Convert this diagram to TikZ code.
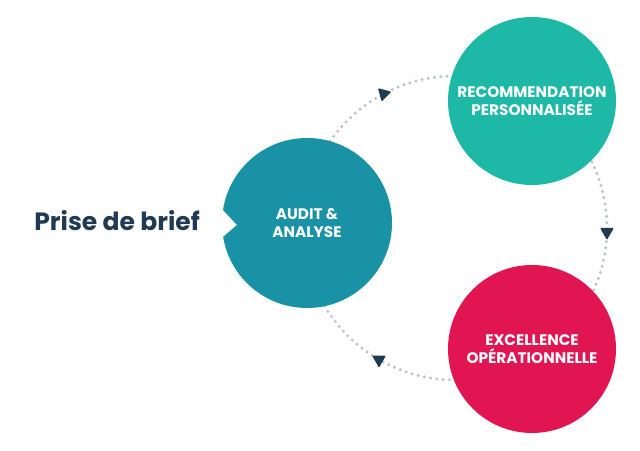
\documentclass[tikz,border=0pt]{standalone}
\usepackage{fontspec}
\setmainfont{Poppins}
\usetikzlibrary{shapes.geometric}

\definecolor{navy}{HTML}{1F3A52}
\definecolor{dotgray}{HTML}{BCC2CA}
\definecolor{auditcol}{HTML}{1892A4}
\definecolor{recocol}{HTML}{1EB8A7}
\definecolor{excelcol}{HTML}{E01552}

\tikzset{
    bubble/.style={circle, minimum size=168pt, inner sep=0pt, align=center,
        text=white, font=\bfseries\fontsize{15.3}{18}\selectfont},
    dotline/.style={dotgray, line width=3.3pt, line cap=round,
        dash pattern=on 0pt off 6.3pt},
    tri/.style={regular polygon, regular polygon sides=3, shape border rotate=180,
        fill=navy, minimum size=16pt, inner sep=0pt, rounded corners=1pt}
}

\begin{document}
\begin{tikzpicture}[x=1pt, y=1pt]
        \useasboundingbox (0,0) rectangle (640,450);
        \coordinate (hub) at (455,222);

        % dotted cycle
        \draw[dotline] ([shift={(150:152)}]hub) arc[start angle=150, end angle=90, radius=152];
        \draw[dotline] ([shift={(40:152)}]hub) arc[start angle=40, end angle=-30, radius=152];
        \draw[dotline] ([shift={(-85:152)}]hub) arc[start angle=-85, end angle=-155, radius=152];

        % steps
        \node[bubble, fill=auditcol, minimum size=170pt] (audit) at (307,227) {AUDIT \&\\ANALYSE};
        \node[bubble, fill=recocol] (reco) at (532,349) {RECOMMENDATION\\PERSONNALISÉE};
        \node[bubble, fill=excelcol] (excel) at (532,101) {EXCELLENCE\\OPÉRATIONNELLE};

        % notch
        \fill[white] ([shift={(-3,17.3)}]audit.west) -- ([shift={(15,-2)}]audit.west)
            -- ([shift={(-3,-17.4)}]audit.west) -- cycle;

        % arrows
        \node[tri, rotate=-15] (arr1) at ([shift={(118:152)}]hub) {};
        \node[tri] (arr2) at ([shift={(-1.5:152)}]hub) {};
        \node[tri] (arr3) at ([shift={(240:152)}]hub) {};

        % start
        \node[anchor=base east, text=navy, font=\bfseries\fontsize{25}{28}\selectfont, inner sep=0pt]
            (brief) at (200,219) {Prise de brief};
    \end{tikzpicture}
\end{document}
